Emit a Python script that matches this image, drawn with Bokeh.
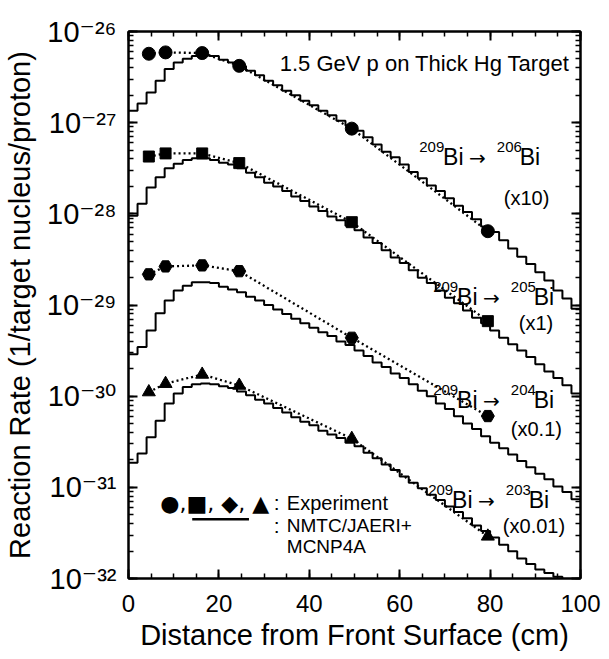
import numpy as np
from bokeh.plotting import figure
from bokeh.models import (LinearAxis, LogAxis, FixedTicker, CustomJSTickFormatter,
                          Label, Range1d)
from bokeh.embed import file_html
from bokeh.resources import INLINE

# ---------------- data ----------------
# experimental points: depth (cm) and reaction rate (already scaled)
exp_depth = [4.5, 8.2, 16.3, 24.5, 49.4, 79.5]
exp_bi206 = [5.7e-27, 5.9e-27, 5.8e-27, 4.2e-27, 8.6e-28, 6.45e-29]   # x10
exp_bi205 = [4.25e-28, 4.6e-28, 4.6e-28, 3.6e-28, 8.1e-29, 6.65e-30]  # x1
exp_bi204 = [2.17e-29, 2.65e-29, 2.72e-29, 2.35e-29, 4.37e-30, 6.05e-31]  # x0.1
exp_bi203 = [1.11e-30, 1.37e-30, 1.73e-30, 1.31e-30, 3.42e-31, 2.9e-32]  # x0.01

# calculation (NMTC/JAERI+MCNP4A), histogram with 2 cm bins, log10 of rate
bin_edges = list(range(0, 101, 2))
calc_bi206_log10 = [-26.87, -26.79, -26.67, -26.54, -26.41, -26.34, -26.30, -26.27, -26.26, -26.27,
                    -26.31, -26.34, -26.38, -26.43, -26.48, -26.54, -26.59, -26.65, -26.70, -26.76,
                    -26.81, -26.87, -26.92, -26.98, -27.03, -27.09, -27.16, -27.24, -27.32, -27.38,
                    -27.46, -27.54, -27.61, -27.69, -27.75, -27.83, -27.91, -27.98, -28.06, -28.14,
                    -28.20, -28.29, -28.38, -28.47, -28.55, -28.64, -28.73, -28.84, -28.93, -29.04]
calc_bi205_log10 = [-28.02, -27.89, -27.71, -27.60, -27.50, -27.45, -27.41, -27.39, -27.39, -27.41,
                    -27.44, -27.46, -27.50, -27.55, -27.60, -27.66, -27.70, -27.75, -27.81, -27.86,
                    -27.92, -27.97, -28.03, -28.07, -28.13, -28.18, -28.26, -28.32, -28.40, -28.48,
                    -28.54, -28.62, -28.70, -28.76, -28.84, -28.92, -28.98, -29.06, -29.14, -29.20,
                    -29.28, -29.36, -29.43, -29.50, -29.57, -29.65, -29.73, -29.80, -29.88, -29.97]
calc_bi204_log10 = [-29.54, -29.46, -29.28, -29.09, -28.95, -28.84, -28.79, -28.75, -28.75, -28.76,
                    -28.80, -28.83, -28.86, -28.91, -28.95, -29.00, -29.05, -29.10, -29.15, -29.20,
                    -29.25, -29.30, -29.34, -29.40, -29.44, -29.50, -29.56, -29.63, -29.68, -29.75,
                    -29.80, -29.87, -29.94, -30.00, -30.08, -30.14, -30.22, -30.30, -30.36, -30.44,
                    -30.51, -30.57, -30.64, -30.71, -30.78, -30.85, -30.91, -30.99, -31.05, -31.13]
calc_bi203_log10 = [-30.73, -30.63, -30.45, -30.27, -30.08, -29.97, -29.90, -29.87, -29.86, -29.87,
                    -29.89, -29.91, -29.95, -29.99, -30.04, -30.08, -30.13, -30.18, -30.23, -30.28,
                    -30.32, -30.38, -30.42, -30.46, -30.51, -30.55, -30.62, -30.68, -30.75, -30.81,
                    -30.88, -30.95, -31.01, -31.08, -31.14, -31.21, -31.27, -31.34, -31.42, -31.48,
                    -31.55, -31.63, -31.70, -31.78, -31.84, -31.90, -31.94, -31.98, -32.03, -32.07]

x_ticks = [0, 20, 40, 60, 80, 100]
decades = [-32, -31, -30, -29, -28, -27, -26]

FONT = "Liberation Sans"
FONT_SUP = "Liberation Sans, DejaVu Sans"

# ---------------- figure ----------------
p = figure(width=609, height=659, x_range=Range1d(0, 100), y_range=Range1d(1e-32, 1e-26),
           y_axis_type="log", output_backend="svg", toolbar_location=None,
           min_border_left=126, min_border_right=29, min_border_top=31, min_border_bottom=81)
p.grid.visible = False
p.outline_line_color = "black"
p.outline_line_width = 2
p.background_fill_color = "white"
p.border_fill_color = "white"

major_y = [10.0 ** e for e in decades]
minor_y = [m * 10.0 ** e for e in decades[:-1] for m in range(1, 11)]
x_minor = list(range(0, 101, 5))

sup_code = """
const e = Math.round(Math.log10(tick));
const m = {'-':'\u207b','0':'\u2070','1':'\u00b9','2':'\u00b2','3':'\u00b3','4':'\u2074',
           '5':'\u2075','6':'\u2076','7':'\u2077','8':'\u2078','9':'\u2079'};
return '10' + String(e).split('').map(c => m[c]).join('');
"""

def style_axis(ax):
    ax.axis_line_width = 2
    ax.axis_line_color = "black"
    ax.major_tick_line_color = "black"
    ax.minor_tick_line_color = "black"
    ax.major_tick_line_width = 2
    ax.minor_tick_line_width = 1.5
    ax.major_tick_in = 9
    ax.major_tick_out = 0
    ax.minor_tick_in = 5
    ax.minor_tick_out = 0
    ax.major_label_text_font = FONT
    ax.major_label_text_color = "black"
    ax.axis_label_text_font = FONT
    ax.axis_label_text_color = "black"
    ax.axis_label_text_font_style = "normal"

xb = p.xaxis[0]
style_axis(xb)
xb.ticker = FixedTicker(ticks=x_ticks, minor_ticks=x_minor)
xb.major_label_text_font_size = "24px"
xb.major_label_standoff = 16
xb.axis_label = "Distance from Front Surface (cm)"
xb.axis_label_text_font_size = "29px"
xb.axis_label_standoff = 4

yl = p.yaxis[0]
style_axis(yl)
yl.ticker = FixedTicker(ticks=major_y, minor_ticks=minor_y)
yl.formatter = CustomJSTickFormatter(code=sup_code)
yl.major_label_text_font = FONT_SUP
yl.major_label_text_font_size = "29px"
yl.major_label_standoff = 12
yl.axis_label = "Reaction Rate (1/target nucleus/proton)"
yl.axis_label_text_font_size = "29px"
yl.axis_label_standoff = 8

xt = LinearAxis(ticker=FixedTicker(ticks=x_ticks, minor_ticks=x_minor),
                formatter=CustomJSTickFormatter(code="return '';"))
style_axis(xt)
xt.major_label_text_font_size = "0px"
p.add_layout(xt, "above")

yr = LogAxis(ticker=FixedTicker(ticks=major_y, minor_ticks=minor_y),
             formatter=CustomJSTickFormatter(code="return '';"))
style_axis(yr)
yr.major_label_text_font_size = "0px"
p.add_layout(yr, "right")

# ---------------- calculation histograms ----------------
for arr in [calc_bi206_log10, calc_bi205_log10, calc_bi204_log10, calc_bi203_log10]:
    vals = list(10.0 ** np.array(arr))
    p.step(x=bin_edges, y=vals + [vals[-1]], mode="after", line_color="black", line_width=2)

# ---------------- experiment ----------------
markers = [("circle", exp_bi206, 13), ("square", exp_bi205, 11),
           ("hex", exp_bi204, 13), ("triangle", exp_bi203, 13)]
for mk, vals, sz in markers:
    p.line(exp_depth, vals, line_color="black", line_width=2.3, line_dash="2 3")
    p.scatter(exp_depth, vals, marker=mk, size=sz, fill_color="black", line_color="black")

# ---------------- annotations ----------------
def dx(px):
    return (px - 126) / 4.54

def dy(py):
    return 10 ** (-26 - (py - 31) / 91.2)

def lab(px, py, text, size, align="left", font=FONT):
    p.add_layout(Label(x=dx(px), y=dy(py), text=text, text_font=font,
                       text_font_size=f"{size}px", text_align=align,
                       text_baseline="alphabetic", text_color="black"))

lab(569, 63, "1.5 GeV p on Thick Hg Target", 22, align="right")

reactions = [(418, 157, "206", 503, 198, "(x10)"),
             (432, 297, "205", 518, 323, "(x1)"),
             (432, 400, "204", 510, 429, "(x0.1)"),
             (427, 500, "203", 502, 526, "(x0.01)")]
for x0, base, prod, mx, mb, mult in reactions:
    lab(x0, base - 10, "209", 15)
    lab(x0 + 24, base, "Bi", 23)
    lab(x0 + 50, base + 1, "\u2192", 20, font="DejaVu Sans")
    lab(x0 + 78, base - 10, prod, 15)
    lab(x0 + 101, base, "Bi", 23)
    lab(mx, mb, mult, 20)

# legend
lab(158, 503, "\u25cf,\u25a0, \u25c6, \u25b2", 22, font="DejaVu Sans")
lab(272, 502, ":", 21)
lab(285, 503, "Experiment", 20)
p.line([dx(190), dx(247)], [dy(519), dy(519)], line_color="black", line_width=2.5)
lab(272, 525, ":", 21)
lab(285, 525, "NMTC/JAERI+", 19)
lab(285, 546, "MCNP4A", 19)

open("out.html", "w").write(file_html(p, INLINE))
